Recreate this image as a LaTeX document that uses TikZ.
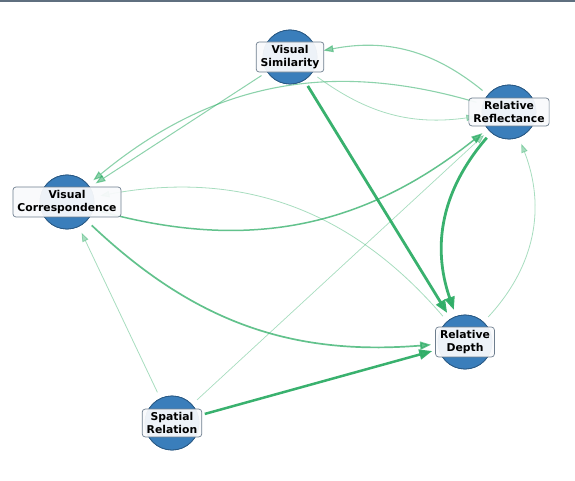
\documentclass[tikz,border=0pt]{standalone}
\usepackage{fontspec}
\setmainfont{DejaVu Sans}
\usepackage{xcolor}
\usetikzlibrary{arrows.meta}
\definecolor{azulNodo}{HTML}{3A7EBB}
\definecolor{azulBorde}{HTML}{2B5A85}
\definecolor{verdeFlecha}{HTML}{2EAD66}
\definecolor{grisBorde}{HTML}{6E7E8E}
\definecolor{grisMarco}{HTML}{5F6F7F}
\definecolor{fondoEtiq}{HTML}{F9FAFC}

\begin{document}
\begin{tikzpicture}[
  x=1pt, y=1pt,
  % Estilos de nodos
  nodoCirculo/.style={
    circle, draw=azulBorde, fill=azulNodo,
    line width=0.8pt, minimum size=54pt,
    inner sep=0pt, outer sep=7pt
  },
  etiqNodo/.style={
    rectangle, rounded corners=3pt,
    draw=grisBorde, fill=fondoEtiq, fill opacity=0.94, text opacity=1,
    line width=0.7pt, align=center,
    font=\fontsize{10.8}{12.5}\selectfont\bfseries,
    inner xsep=4.5pt, inner ysep=3.5pt
  },
  % Estilos de flechas
  flechaGruesa/.style={
    -{Triangle[length=13pt, width=10pt]}, line width=2.8pt,
    draw=verdeFlecha, opacity=0.95
  },
  flechaMedia/.style={
    -{Triangle[length=11pt, width=8pt]}, line width=1.7pt,
    draw=verdeFlecha, opacity=0.75
  },
  flechaSuave/.style={
    -{Triangle[length=10pt, width=7pt]}, line width=1.1pt,
    draw=verdeFlecha, opacity=0.55
  },
  flechaFina/.style={
    -{Triangle[length=9pt, width=6.5pt]}, line width=0.8pt,
    draw=verdeFlecha, opacity=0.42
  }
]

\useasboundingbox (0,0) rectangle (575,-481);

% --- Marco superior ---
\coordinate (marcoIzq) at (0,-0.8);
\coordinate (marcoDer) at (575,-0.8);
\draw[grisMarco, line width=1.6pt] (marcoIzq) -- (marcoDer);

% --- Nodos ---
\node[nodoCirculo] (simVisual)  at (290,-57)  {};
\node[nodoCirculo] (reflRel)    at (509,-112) {};
\node[nodoCirculo] (corrVisual) at (67,-202)  {};
\node[nodoCirculo] (profRel)    at (465,-342) {};
\node[nodoCirculo] (relEsp)     at (172,-423) {};

% --- Flechas hacia Relative Depth ---
\draw[flechaGruesa] (simVisual) -- (profRel);
\draw[flechaGruesa] (reflRel) to[bend right=30] (profRel);
\draw[flechaGruesa, line width=2.5pt] (relEsp) -- (profRel);
\draw[flechaMedia] (corrVisual) to[bend right=24] (profRel);

% --- Flechas hacia Relative Reflectance ---
\draw[flechaMedia, line width=1.5pt] (corrVisual) to[bend right=27] (reflRel);
\draw[flechaFina] (simVisual) to[bend right=22] (reflRel);
\draw[flechaFina] (profRel) to[bend right=32] (reflRel);
\draw[flechaFina, line width=0.7pt] (relEsp) -- (reflRel);

% --- Flechas hacia Visual Similarity y Visual Correspondence ---
\draw[flechaSuave] (reflRel) to[bend right=25] (simVisual);
\draw[flechaSuave] (reflRel) to[bend right=28] (corrVisual);
\draw[flechaSuave, line width=1pt] (simVisual) -- (corrVisual);
\draw[flechaFina] (profRel) to[bend right=30] (corrVisual);
\draw[flechaFina] (relEsp) -- (corrVisual);

% --- Circulos encima de las flechas ---
\node[nodoCirculo] at (simVisual)  {};
\node[nodoCirculo] at (reflRel)    {};
\node[nodoCirculo] at (corrVisual) {};
\node[nodoCirculo] at (profRel)    {};
\node[nodoCirculo] at (relEsp)     {};

% --- Etiquetas ---
\node[etiqNodo] (etiqSim)  at (simVisual)  {Visual\\Similarity};
\node[etiqNodo] (etiqRefl) at (reflRel)    {Relative\\Reflectance};
\node[etiqNodo] (etiqCorr) at (corrVisual) {Visual\\Correspondence};
\node[etiqNodo] (etiqProf) at (profRel)    {Relative\\Depth};
\node[etiqNodo] (etiqEsp)  at (relEsp)     {Spatial\\Relation};

\end{tikzpicture}
\end{document}
